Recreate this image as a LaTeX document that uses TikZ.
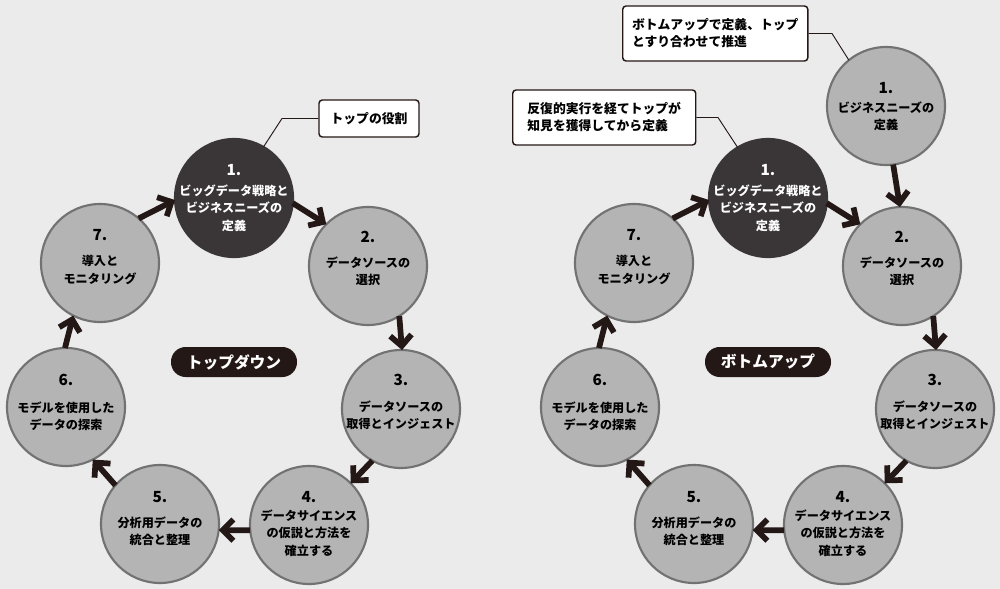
\documentclass[tikz,border=0pt]{standalone}
\usepackage{fontspec}
\setmainfont{Noto Sans CJK JP}
\usetikzlibrary{arrows.meta}
\definecolor{bg}{HTML}{EBEBEB}
\definecolor{cfill}{HTML}{B4B4B4}
\definecolor{cline}{HTML}{727272}
\definecolor{darkc}{HTML}{3A3536}
\definecolor{ink}{HTML}{231815}
\tikzset{
  stage/.style={circle, minimum size=88.5pt, inner sep=0pt, outer sep=0pt, fill=cfill, draw=cline, line width=1.6pt},
  darkstage/.style={stage, fill=darkc, draw=darkc},
  stagenum/.style={inner sep=0pt, font=\bfseries\fontsize{11.5}{12}\selectfont},
  stagetxt/.style={inner sep=0pt, align=center, font=\bfseries\fontsize{9.1}{13}\selectfont},
  flow/.style={draw=ink, line width=4.3pt, -{Straight Barb[length=8pt,width=16pt]}},
  pill/.style={fill=ink, text=white, rounded corners=11pt, minimum height=22.5pt, minimum width=94.5pt, inner sep=0pt, font=\bfseries\fontsize{11.8}{13}\selectfont},
  callout/.style={fill=white, draw=ink, line width=1.1pt, rounded corners=2.5pt, inner xsep=7pt, inner ysep=0pt, align=left, font=\bfseries\fontsize{9.6}{12.75}\selectfont},
  leader/.style={draw=ink, line width=0.7pt}
}
\begin{document}
\begin{tikzpicture}[x=0.75pt,y=-0.75pt]
\useasboundingbox (0,0) rectangle (1000,589);
\fill[bg] (0,0) rectangle (1000,589);

% ===== Left: top-down =====
\node[darkstage] (c1) at (234,198) {};
\node[stage] (c2) at (368,266) {};
\node[stage] (c3) at (401,409) {};
\node[stage] (c4) at (309,525) {};
\node[stage] (c5) at (160,524) {};
\node[stage] (c6) at (66,407) {};
\node[stage] (c7) at (100,263) {};

\node[stagenum, text=white] (n1) at (234,170) {1.};
\node[stagetxt, text=white] (t1) at (234,208) {ビッグデータ戦略と\\ビジネスニーズの\\定義};
\node[stagenum] (n2) at (368,237) {2.};
\node[stagetxt] (t2) at (368,271) {データソースの\\選択};
\node[stagenum] (n3) at (401,380) {3.};
\node[stagetxt] (t3) at (401,415.5) {データソースの\\取得とインジェスト};
\node[stagenum] (n4) at (309,497) {4.};
\node[stagetxt] (t4) at (309,533) {データサイエンス\\の仮説と方法を\\確立する};
\node[stagenum] (n5) at (160,497) {5.};
\node[stagetxt] (t5) at (160,531.5) {分析用データの\\統合と整理};
\node[stagenum] (n6) at (66,380) {6.};
\node[stagetxt] (t6) at (66,416) {モデルを使用した\\データの探索};
\node[stagenum] (n7) at (100,235) {7.};
\node[stagetxt] (t7) at (100,270) {導入と\\モニタリング};

\draw[flow] (c7.49) -- (c1.182);
\draw[flow] (c1.-5) -- (c2.135);
\draw[flow] (c2.-58) -- (c3.89);
\draw[flow] (c3.241) -- (c4.45);
\draw[flow] (c4.185) -- (c5.-6);
\draw[flow] (c5.139) -- (c6.-63);
\draw[flow] (c6.91) -- (c7.243);

\node[pill] (tdlabel) at (234,362) {トップダウン};

\node[callout, minimum width=75pt, minimum height=27.75pt, align=center] (callL) at (369,118.5) {トップの役割};
\coordinate (kL) at (282,118.5);
\draw[leader] (callL.west) -- (kL) -- (c1.60);

% ===== Right: bottom-up =====
\node[darkstage] (d1) at (768,198) {};
\node[stage] (d2) at (902,266) {};
\node[stage] (d3) at (935,409) {};
\node[stage] (d4) at (843,525) {};
\node[stage] (d5) at (694,524) {};
\node[stage] (d6) at (600,407) {};
\node[stage] (d7) at (634,263) {};
\node[stage] (d0) at (886,106) {};

\node[stagenum, text=white] (m1) at (768,170) {1.};
\node[stagetxt, text=white] (u1) at (768,208) {ビッグデータ戦略と\\ビジネスニーズの\\定義};
\node[stagenum] (m2) at (902,237) {2.};
\node[stagetxt] (u2) at (902,271) {データソースの\\選択};
\node[stagenum] (m3) at (935,380) {3.};
\node[stagetxt] (u3) at (935,415.5) {データソースの\\取得とインジェスト};
\node[stagenum] (m4) at (843,497) {4.};
\node[stagetxt] (u4) at (843,533) {データサイエンス\\の仮説と方法を\\確立する};
\node[stagenum] (m5) at (694,497) {5.};
\node[stagetxt] (u5) at (694,531.5) {分析用データの\\統合と整理};
\node[stagenum] (m6) at (600,380) {6.};
\node[stagetxt] (u6) at (600,416) {モデルを使用した\\データの探索};
\node[stagenum] (m7) at (634,235) {7.};
\node[stagetxt] (u7) at (634,270) {導入と\\モニタリング};
\node[stagenum] (m0) at (886,88) {1.};
\node[stagetxt] (u0) at (886,116) {ビジネスニーズの\\定義};

\draw[flow] (d7.49) -- (d1.182);
\draw[flow] (d1.-5) -- (d2.135);
\draw[flow] (d2.-58) -- (d3.89);
\draw[flow] (d3.241) -- (d4.45);
\draw[flow] (d4.185) -- (d5.-6);
\draw[flow] (d5.139) -- (d6.-63);
\draw[flow] (d6.91) -- (d7.243);
\draw[flow] (d0.-83) -- (d2.92);

\node[pill] (bulabel) at (768,362) {ボトムアップ};

\node[callout, anchor=west, minimum width=137.25pt, minimum height=41.25pt] (callR1) at (622,33.5) {ボトムアップで定義、トップ\\とすり合わせて推進};
\coordinate (kR1) at (832,33.5);
\draw[leader] (callR1.east) -- (kR1) -- (d0.129);

\node[callout, anchor=west, minimum width=137.25pt, minimum height=41.25pt] (callR2) at (512,117.5) {反復的実行を経てトップが\\知見を獲得してから定義};
\coordinate (kR2) at (718,117.5);
\draw[leader] (callR2.east) -- (kR2) -- (d1.121);
\end{tikzpicture}
\end{document}
